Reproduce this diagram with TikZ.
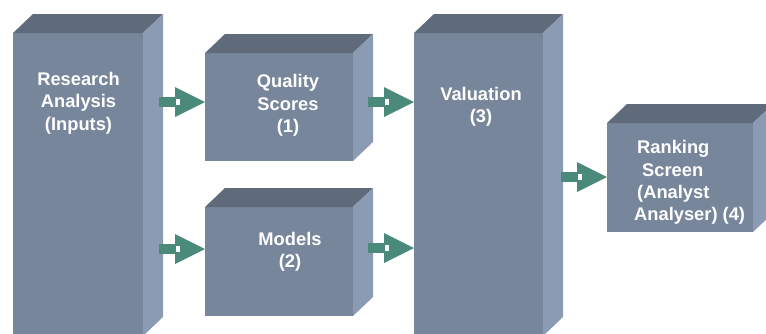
\documentclass[tikz,border=0pt]{standalone}
\usepackage{fontspec}
\setmainfont{Liberation Sans}
\usetikzlibrary{calc}
\definecolor{frontc}{RGB}{120,134,155}
\definecolor{topc}{RGB}{95,106,122}
\definecolor{sidec}{RGB}{140,155,180}
\definecolor{arrowc}{RGB}{74,138,122}
\tikzset{
  front/.style={fill=frontc, draw=none, inner sep=0pt, outer sep=0pt, rectangle},
  topface/.style={fill=topc, draw=none},
  sideface/.style={fill=sidec, draw=none},
  label/.style={text=white, font=\fontsize{18.3}{22.3}\selectfont\bfseries, align=center, inner sep=0pt},
  blockarrow/.style={fill=arrowc, draw=none},
  notch/.style={fill=white, draw=none}
}
% 3D faces for a named front node
\newcommand{\cubefaces}[1]{%
  \fill[topface] (#1.north west) -- ++(20,-19) -- ($(#1.north east)+(20,-19)$) -- (#1.north east) -- cycle;
  \fill[sideface] (#1.north east) -- ++(20,-19) -- ($(#1.south east)+(20,-19)$) -- (#1.south east) -- cycle;
}
% block arrow ending at a named coordinate (tip)
\newcommand{\barrow}[1]{%
  \fill[blockarrow] ($(#1)+(-46,-5)$) rectangle ($(#1)+(-28,5)$);
  \fill[blockarrow] ($(#1)+(-30,-15)$) -- (#1) -- ($(#1)+(-30,15)$) -- cycle;
  \fill[notch] ($(#1)+(-29,-3)$) rectangle ($(#1)+(-25,3)$);
}
\begin{document}
\begin{tikzpicture}[x=1pt,y=-1pt]
\useasboundingbox (0,0) rectangle (766,333);
\begin{scope}
\clip (0,0) rectangle (766,333);
% front faces
\node[front, minimum width=130pt, minimum height=303pt] (R) at (78,184.5) {};
\node[front, minimum width=148pt, minimum height=108pt] (Q) at (279,107) {};
\node[front, minimum width=148pt, minimum height=109pt] (M) at (279,261.5) {};
\node[front, minimum width=129pt, minimum height=303pt] (V) at (478.5,184.5) {};
\node[front, minimum width=146pt, minimum height=109pt] (K) at (680,177.5) {};
\cubefaces{R}
\cubefaces{Q}
\cubefaces{M}
\cubefaces{V}
\cubefaces{K}
% labels
\node[label] (tR) at (78.5,103) {Research\\Analysis\\(Inputs)};
\node[label] (tQ) at (288,105.5) {Quality\\Scores\\(1)};
\node[label] (tM) at (290,252) {Models\\(2)};
\node[label] (tV) at (481,107) {Valuation\\(3)};
\node[label, align=left, anchor=west] (tK) at (634,182.5) {\hspace{3pt}Ranking\\\hspace{8pt}Screen\\\hspace{3pt}(Analyst\\Analyser) (4)};
% arrow tips
\coordinate (a1) at (Q.west |- 0,102);
\coordinate (a2) at (M.west |- 0,249);
\coordinate (a3) at (V.west |- 0,102);
\coordinate (a4) at (V.west |- 0,248);
\coordinate (a5) at (K.west |- 0,177);
\barrow{a1}
\barrow{a2}
\barrow{a3}
\barrow{a4}
\barrow{a5}
\end{scope}
\end{tikzpicture}
\end{document}
